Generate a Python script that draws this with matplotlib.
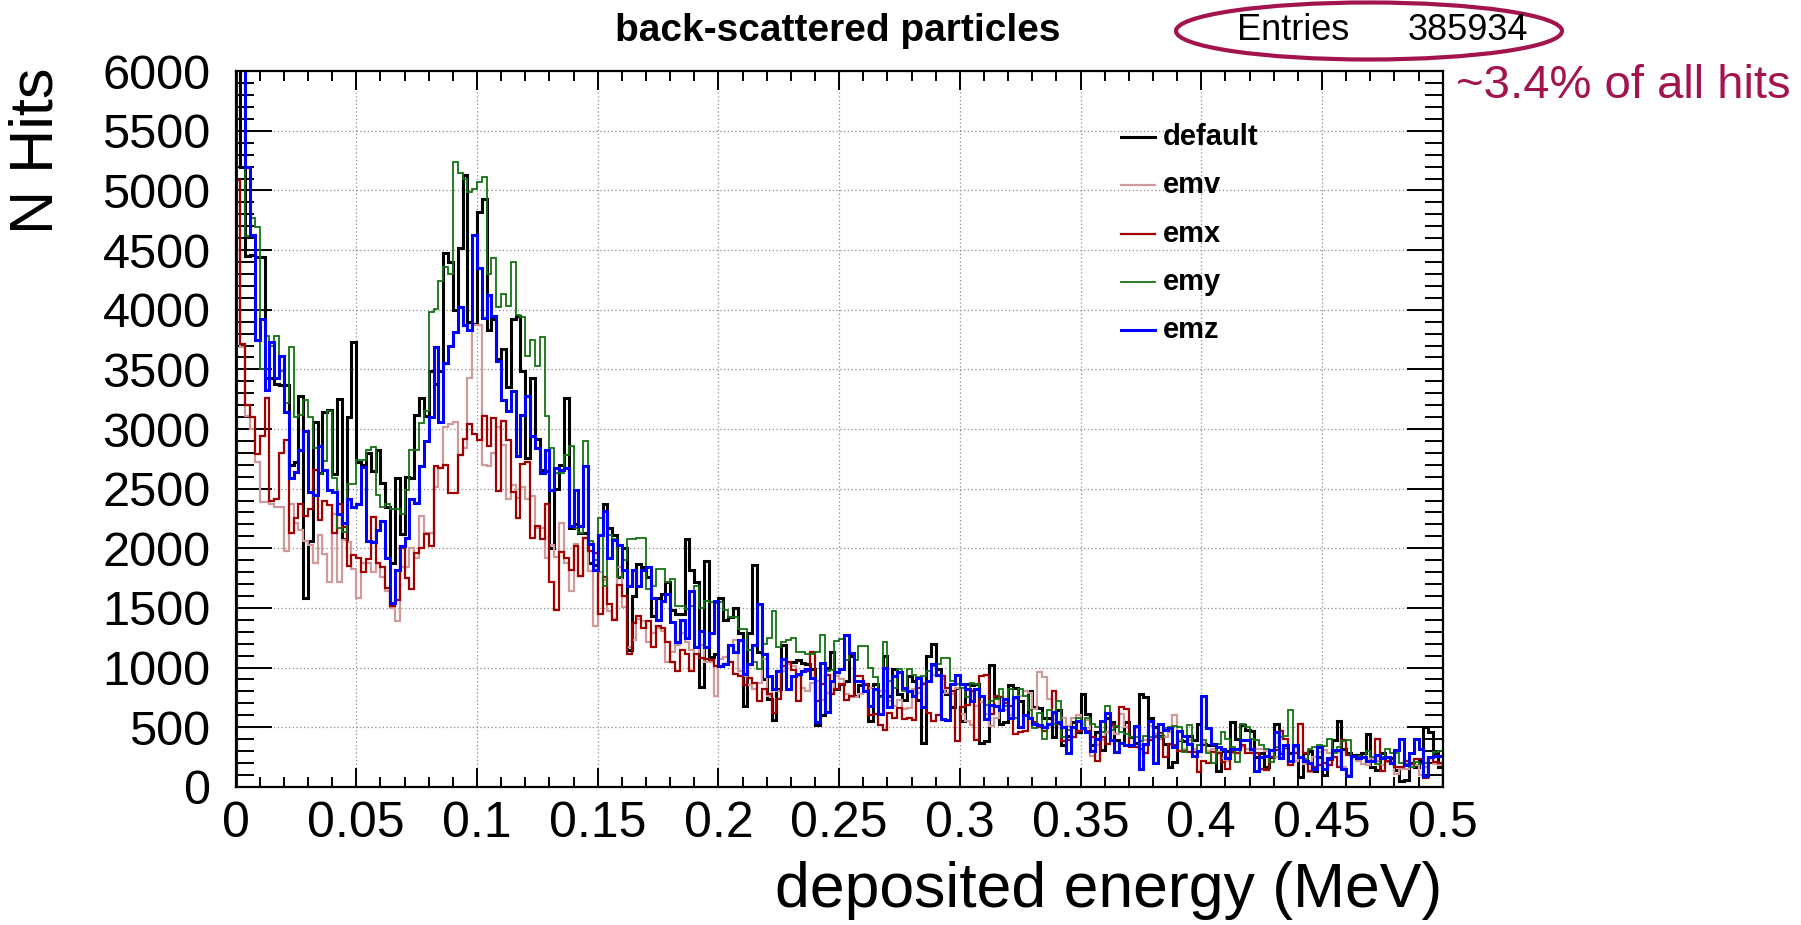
import numpy as np
import matplotlib
matplotlib.use('Agg')
import matplotlib.pyplot as plt
from matplotlib.patches import Ellipse
from matplotlib.lines import Line2D
from matplotlib.ticker import MultipleLocator, FuncFormatter

plt.rcParams['font.family'] = ['Liberation Sans', 'DejaVu Sans']

# 250 bins of 0.002 MeV between 0 and 0.5 MeV
edges = np.linspace(0.0, 0.5, 251)

default_hits = [
    7800, 5200, 4450, 4460, 4440, 4440, 3430, 3430, 3380, 3370,
    3370, 2700, 2720, 3280, 1580, 2060, 3060, 2630, 3140, 3160,
    2620, 3250, 2080, 3100, 3730, 2720, 2700, 2800, 2650, 2820,
    2550, 2350, 1880, 2590, 2120, 2600, 2590, 3120, 3260, 3110,
    3490, 3380, 3490, 4480, 4400, 4000, 4520, 5130, 3900, 3880,
    4820, 4930, 3830, 3920, 3590, 3670, 3350, 3920, 3950, 3490,
    2760, 3430, 2920, 2660, 2650, 2000, 2500, 2700, 3260, 2170,
    2200, 2130, 2130, 1880, 1860, 2110, 2370, 2170, 2110, 1760,
    2000, 1150, 1600, 1870, 1840, 1760, 1430, 1580, 1620, 1720,
    1480, 1450, 1450, 2080, 1820, 1720, 840, 1890, 1090, 1110,
    1580, 1400, 1420, 1500, 1290, 680, 1290, 1860, 1130, 900,
    740, 560, 820, 1190, 1050, 1050, 1060, 1040, 1030, 990,
    520, 600, 1000, 1130, 820, 860, 890, 1100, 760, 850,
    860, 550, 860, 760, 1100, 760, 990, 780, 730, 930,
    890, 730, 370, 1100, 1200, 990, 800, 780, 670, 830,
    550, 860, 850, 860, 370, 380, 1020, 750, 530, 540,
    850, 830, 720, 600, 800, 670, 660, 580, 580, 420,
    640, 350, 430, 540, 460, 780, 610, 350, 460, 310,
    580, 540, 390, 370, 540, 420, 370, 780, 750, 580,
    500, 430, 360, 170, 210, 390, 380, 430, 390, 530,
    360, 350, 350, 130, 300, 300, 540, 400, 520, 480,
    470, 250, 280, 170, 250, 530, 280, 330, 280, 350,
    80, 280, 300, 130, 250, 100, 230, 390, 550, 320,
    280, 270, 270, 280, 440, 170, 140, 280, 220, 240,
    140, 50, 55, 200, 170, 220, 500, 460, 280, 170,
]

emv_hits = [
    4500, 3690, 3110, 3000, 2720, 2390, 2390, 2370, 2350, 2350,
    1980, 2370, 2210, 2150, 2060, 2030, 1880, 2110, 1950, 1720,
    2290, 1720, 2070, 2050, 1830, 1580, 1880, 1880, 1800, 1880,
    1760, 1640, 1500, 1390, 1840, 1840, 2000, 1920, 2270, 2130,
    2130, 2510, 2670, 3020, 3040, 3060, 2780, 2840, 3430, 3870,
    3870, 2700, 2690, 2800, 3020, 2870, 2410, 2530, 2420, 2510,
    2410, 2440, 2170, 2170, 1920, 2030, 1930, 2210, 1880, 1640,
    2040, 1770, 2090, 1810, 1350, 1800, 1730, 1470, 1410, 1840,
    1510, 1170, 1230, 1410, 1390, 1210, 1290, 1330, 1310, 1050,
    1130, 1190, 1290, 1210, 1150, 1110, 1190, 1050, 1050, 760,
    1070, 1090, 1190, 1230, 970, 930, 850, 820, 870, 1070,
    760, 820, 800, 970, 1030, 1010, 930, 830, 800, 870,
    890, 730, 790, 780, 930, 900, 780, 750, 750, 780,
    800, 830, 820, 800, 800, 720, 680, 730, 650, 660,
    820, 790, 870, 880, 940, 930, 900, 790, 780, 830,
    610, 550, 520, 680, 710, 610, 510, 580, 750, 640,
    600, 740, 760, 800, 790, 650, 960, 920, 740, 610,
    530, 580, 510, 580, 600, 530, 560, 260, 350, 390,
    460, 500, 440, 610, 500, 350, 490, 350, 390, 510,
    440, 400, 420, 460, 600, 390, 320, 390, 320, 350,
    370, 300, 320, 290, 240, 220, 280, 280, 330, 320,
    300, 320, 320, 300, 210, 250, 290, 330, 210, 220,
    240, 190, 120, 250, 290, 310, 280, 300, 290, 170,
    100, 250, 220, 190, 180, 240, 220, 180, 210, 220,
    110, 150, 150, 170, 180, 100, 170, 240, 190, 180,
]

emx_hits = [
    5090, 3710, 3200, 3100, 2790, 2940, 3260, 2400, 2410, 2800,
    2910, 2130, 2250, 2370, 2270, 2330, 2660, 2240, 2400, 2360,
    2130, 2370, 2180, 1850, 1940, 1920, 1800, 1910, 2260, 1880,
    1840, 1670, 1520, 1570, 2000, 1750, 1660, 1960, 2000, 2120,
    2020, 2690, 2670, 2700, 2460, 2460, 2780, 2920, 3040, 2960,
    2910, 3110, 2860, 3090, 2480, 3070, 2910, 2470, 2250, 2710,
    2720, 2090, 2190, 2080, 2370, 1720, 1480, 1970, 1920, 1820,
    2020, 1770, 2090, 1980, 1960, 1450, 1760, 1530, 1400, 1690,
    1600, 1110, 1370, 1430, 1330, 1390, 1170, 1350, 1330, 1210,
    1050, 970, 1150, 1110, 970, 1110, 1080, 1070, 1060, 1010,
    1010, 1030, 1050, 950, 930, 850, 910, 870, 720, 820,
    780, 620, 740, 1010, 1050, 980, 720, 970, 970, 1130,
    720, 860, 940, 780, 820, 860, 730, 760, 930, 930,
    860, 600, 610, 520, 480, 620, 580, 660, 570, 580,
    560, 830, 860, 620, 550, 600, 930, 830, 800, 380,
    670, 690, 800, 390, 930, 940, 610, 760, 750, 700,
    680, 440, 460, 470, 580, 540, 500, 470, 530, 800,
    530, 380, 390, 420, 470, 490, 470, 420, 220, 420,
    360, 520, 500, 670, 650, 330, 330, 320, 280, 390,
    420, 450, 250, 360, 350, 300, 300, 290, 290, 120,
    220, 200, 290, 280, 210, 150, 290, 280, 350, 280,
    280, 280, 150, 140, 250, 310, 470, 400, 180, 280,
    530, 280, 130, 170, 180, 200, 180, 250, 170, 390,
    270, 250, 250, 250, 220, 220, 400, 130, 220, 190,
    170, 170, 220, 190, 230, 230, 70, 240, 210, 200,
]

emy_hits = [
    7500, 6100, 4620, 4770, 4690, 3500, 3780, 3700, 3780, 3490,
    3220, 3690, 3100, 3120, 3240, 3100, 2840, 2620, 2730, 3150,
    2590, 2170, 2140, 2540, 2540, 2740, 2740, 2820, 2850, 2450,
    2350, 2370, 2330, 2330, 2290, 2490, 2820, 2820, 3050, 3150,
    3980, 4010, 4240, 4360, 4300, 5240, 5150, 5100, 4990, 5010,
    5070, 5110, 4300, 4430, 4020, 4130, 4030, 4400, 3960, 3940,
    3610, 3750, 3530, 3770, 3110, 2840, 2630, 2630, 2780, 2860,
    2170, 2130, 2900, 2060, 1900, 2250, 1680, 2110, 2080, 1760,
    1900, 2080, 2080, 2090, 2090, 1660, 1680, 1830, 1830, 1720,
    1740, 1520, 1520, 1490, 1520, 1680, 1500, 1560, 1550, 1540,
    1550, 1480, 1420, 1420, 1320, 1320, 1150, 1050, 990, 1200,
    1250, 1470, 1170, 1210, 1230, 1250, 1130, 1130, 1110, 1110,
    1130, 1270, 970, 980, 1220, 1240, 1060, 1110, 1060, 1180,
    1180, 1000, 920, 750, 1210, 890, 830, 990, 800, 990,
    940, 920, 930, 970, 1010, 1030, 1080, 1080, 890, 860,
    830, 750, 870, 860, 750, 690, 720, 740, 820, 680,
    820, 580, 820, 760, 640, 490, 620, 400, 640, 530,
    720, 420, 480, 500, 580, 490, 580, 530, 500, 460,
    680, 480, 510, 460, 440, 420, 420, 380, 430, 420,
    430, 420, 490, 500, 510, 500, 290, 520, 260, 350,
    390, 280, 200, 360, 460, 400, 330, 210, 530, 500,
    400, 390, 350, 320, 210, 330, 420, 430, 640, 330,
    250, 230, 320, 330, 350, 340, 400, 280, 330, 380,
    390, 250, 260, 250, 300, 250, 190, 250, 320, 280,
    280, 200, 190, 170, 210, 190, 200, 240, 290, 300,
]

emz_hits = [
    8500, 6200, 5200, 4630, 3750, 3920, 3330, 3730, 3430, 3610,
    3140, 2590, 2640, 2820, 2980, 2470, 2450, 2860, 2660, 2490,
    2470, 2290, 2210, 2410, 2350, 2370, 2680, 2060, 2050, 2150,
    2230, 1920, 1540, 1820, 2020, 2090, 2410, 2380, 2690, 2900,
    3100, 3690, 3060, 3550, 3700, 3810, 4020, 3870, 3830, 4630,
    4350, 3930, 4120, 3950, 3570, 3240, 3150, 3320, 2770, 3120,
    3280, 2940, 2840, 2630, 2820, 2490, 2670, 2660, 2670, 2190,
    2490, 2190, 2690, 2040, 1820, 2110, 2310, 1920, 2070, 2030,
    1820, 1680, 1820, 1680, 1820, 1840, 1580, 1400, 1560, 1620,
    1380, 1210, 1400, 1250, 1640, 1170, 1310, 1170, 1290, 1560,
    1010, 1030, 1190, 1130, 1230, 950, 1030, 1190, 1530, 1110,
    930, 820, 970, 1070, 820, 930, 950, 970, 990, 910,
    540, 1040, 630, 890, 960, 990, 1270, 1120, 890, 890,
    800, 680, 820, 610, 1000, 670, 930, 960, 830, 800,
    760, 910, 670, 890, 1030, 940, 570, 560, 860, 940,
    860, 820, 720, 820, 760, 570, 690, 680, 640, 740,
    580, 750, 500, 600, 580, 530, 520, 500, 530, 630,
    540, 500, 280, 500, 550, 490, 460, 300, 400, 550,
    620, 390, 290, 370, 350, 350, 510, 150, 360, 550,
    200, 530, 480, 490, 330, 470, 430, 360, 260, 300,
    760, 490, 360, 330, 320, 240, 320, 320, 390, 390,
    320, 130, 250, 260, 310, 460, 240, 350, 220, 350,
    250, 220, 200, 150, 330, 150, 240, 310, 310, 150,
    90, 260, 240, 250, 220, 220, 270, 240, 250, 200,
    310, 400, 180, 280, 400, 320, 90, 250, 260, 260,
]

labels = ['default', 'emv', 'emx', 'emy', 'emz']
hists = [default_hits, emv_hits, emx_hits, emy_hits, emz_hits]
colors = ['black', '#d09a9a', '#a00000', '#137313', '#0000ff']
widths = [2.2, 1.6, 1.6, 1.3, 2.2]

fig = plt.figure(figsize=(18.01, 9.25), dpi=100)
ax = fig.add_axes([0.1308, 0.1494, 0.6703, 0.7736])

for h, c, w in zip(hists, colors, widths):
    ax.stairs(h, edges, baseline=0, fill=False, color=c, linewidth=w)

ax.set_xlim(0, 0.5)
ax.set_ylim(0, 6000)

ax.xaxis.set_major_locator(MultipleLocator(0.05))
ax.xaxis.set_minor_locator(MultipleLocator(0.01))
ax.yaxis.set_major_locator(MultipleLocator(500))
ax.yaxis.set_minor_locator(MultipleLocator(100))
ax.xaxis.set_major_formatter(FuncFormatter(lambda v, p: '%g' % v))
ax.yaxis.set_major_formatter(FuncFormatter(lambda v, p: '%d' % round(v)))

ax.tick_params(which='both', direction='in', top=True, right=True, width=1.4, color='black')
ax.tick_params(axis='y', which='major', length=26, labelsize=35, pad=18)
ax.tick_params(axis='y', which='minor', length=13)
ax.tick_params(axis='x', which='major', length=14, labelsize=36, pad=10)
ax.tick_params(axis='x', which='minor', length=7)

ax.set_axisbelow(True)
ax.grid(which='major', color='#8c8c8c', linestyle=(0, (1, 2)), linewidth=0.9)
for s in ax.spines.values():
    s.set_linewidth(1.6)

# axis titles, ROOT style: placed at the far end of each axis
fig.text(37 / 1801, 1 - 68 / 925, 'N Hits', rotation=90, ha='center', va='top', fontsize=44)
fig.text(1442 / 1801, 1 - 907 / 925, 'deposited energy (MeV)', ha='right', va='baseline', fontsize=45)

fig.text(838 / 1801, 1 - 40.7 / 925, 'back-scattered particles', ha='center', va='baseline',
         fontsize=28, fontweight='bold')

# stats box replaced by a hand-drawn ellipse
mark = '#a3144f'
fig.add_artist(Ellipse((1369 / 1801, 1 - 31 / 925), 386 / 1801, 57 / 925,
                       transform=fig.transFigure, fill=False, edgecolor=mark, linewidth=3))
fig.text(1237 / 1801, 1 - 31 / 925, 'Entries', ha='left', va='center', fontsize=26)
fig.text(1528 / 1801, 1 - 31 / 925, '385934', ha='right', va='center', fontsize=26)
fig.text(1456 / 1801, 1 - 86 / 925, '~3.4% of all hits', ha='left', va='center', fontsize=34, color=mark)

# legend without frame
leg_y = [137, 185, 234, 282, 330]
for lab, c, w, yy in zip(labels, colors, widths, leg_y):
    y = 1 - yy / 925
    fig.add_artist(Line2D([1121 / 1801, 1155 / 1801], [y, y], transform=fig.transFigure,
                          color=c, linewidth=w))
    fig.text(1163 / 1801, y, lab, ha='left', va='center', fontsize=21, fontweight='bold')

fig.savefig('out.png', dpi=100)
